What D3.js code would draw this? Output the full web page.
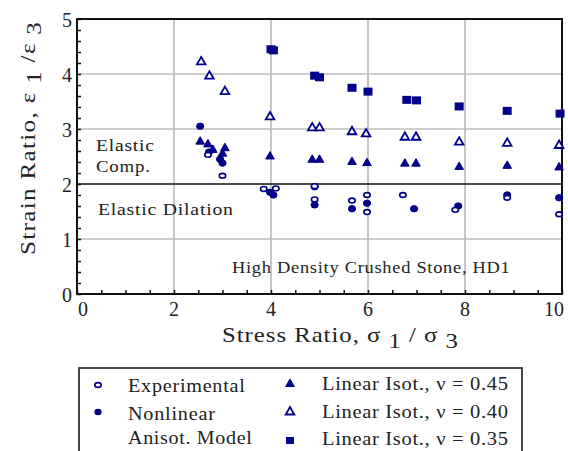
<!DOCTYPE html>
<html>
<head>
<meta charset="utf-8">
<script src="https://cdn.jsdelivr.net/npm/d3@7"></script>
<style>
  html, body { margin: 0; padding: 0; background: #fff; }
  svg { display: block; font-family: "Liberation Serif", "Times New Roman", serif; }
</style>
</head>
<body>
<svg id="chart" width="568" height="451"></svg>
<script>
// Strain ratio vs stress ratio, High Density Crushed Stone (HD1)
const xTicks = [0, 2, 4, 6, 8, 10];
const yTicks = [0, 1, 2, 3, 4, 5];

// Experimental (open circles)
const expX = [2.7, 3.0, 3.85, 4.1, 4.9, 4.9, 5.67, 5.98, 5.98, 6.72, 7.8, 8.87, 9.94];
const expY = [2.53, 2.15, 1.91, 1.92, 1.96, 1.72, 1.7, 1.8, 1.49, 1.8, 1.53, 1.75, 1.45];

// Nonlinear anisotropic model (filled circles)
const nlaX = [2.54, 2.72, 2.95, 3.0, 3.98, 4.05, 4.9, 4.9, 5.67, 5.98, 6.95, 7.86, 8.87, 9.94];
const nlaY = [3.05, 2.58, 2.45, 2.38, 1.85, 1.8, 1.95, 1.62, 1.55, 1.65, 1.55, 1.6, 1.8, 1.75];

// Linear isotropic, nu = 0.45 (filled triangles)
const li45X = [2.54, 2.7, 2.8, 3.0, 3.05, 3.98, 4.85, 5.0, 5.67, 5.98, 6.76, 6.99, 7.88, 8.87, 9.94];
const li45Y = [2.77, 2.72, 2.62, 2.55, 2.65, 2.5, 2.44, 2.44, 2.4, 2.38, 2.37, 2.37, 2.31, 2.33, 2.3];

// Linear isotropic, nu = 0.40 (open triangles)
const li40X = [2.56, 2.73, 3.05, 3.98, 4.85, 5.0, 5.67, 5.96, 6.76, 6.99, 7.88, 8.87, 9.94];
const li40Y = [4.22, 3.96, 3.68, 3.22, 3.02, 3.02, 2.95, 2.91, 2.85, 2.85, 2.76, 2.74, 2.7];

// Linear isotropic, nu = 0.35 (filled squares)
const li35X = [4.0, 4.05, 4.9, 5.0, 5.67, 6.0, 6.8, 7.0, 7.88, 8.87, 9.96];
const li35Y = [4.45, 4.43, 3.97, 3.94, 3.75, 3.68, 3.53, 3.52, 3.41, 3.33, 3.28];

const boundary = 2; // elastic compression / dilation limit

const NAVY = "#00008b";
const INK = "#222";
const svg = d3.select("#chart");
const plotL = 77, plotR = 562, plotT = 19, plotB = 294;

const x = d3.scaleLinear().domain([0, 10]).range([plotL, plotR]);
const y = d3.scaleLinear().domain([0, 5]).range([plotB, plotT]);

svg.append("rect").attr("width", 568).attr("height", 451).attr("fill", "#fff");

// Places a text line starting at (x0, baseline) and widens it to the given width,
// partly by stretching the glyphs and partly by loosening the letter spacing.
function wideText(parent, x0, base, width, size, build, rotate) {
  const grp = parent.append("g");
  const t = grp.append("text").attr("font-size", size).attr("fill", INK);
  build(t);
  const w = t.node().getComputedTextLength();
  const n = t.node().getNumberOfChars();
  const sx = Math.max(1, 1 + (width / w - 1) * 0.6);
  t.attr("letter-spacing", Math.max(0, (width / sx - w) / Math.max(1, n - 1)));
  grp.attr("transform", rotate
    ? `translate(${x0},${base}) rotate(-90) scale(${sx},1)`
    : `translate(${x0},${base}) scale(${sx},1)`);
  return t;
}
const plain = s => t => t.text(s);

// grid
const g = svg.append("g");
g.selectAll("line.gx").data(xTicks.filter(v => v > 0 && v < 10)).join("line")
  .attr("x1", d => x(d)).attr("x2", d => x(d)).attr("y1", plotT).attr("y2", plotB)
  .attr("stroke", "#bdbdbd").attr("stroke-width", 1.7);
g.selectAll("line.gy").data(yTicks.filter(v => v > 0 && v < 5 && v !== boundary)).join("line")
  .attr("x1", plotL).attr("x2", plotR).attr("y1", d => y(d)).attr("y2", d => y(d))
  .attr("stroke", "#bdbdbd").attr("stroke-width", 1.7);

// boundary line
svg.append("line").attr("x1", plotL).attr("x2", plotR)
  .attr("y1", y(boundary)).attr("y2", y(boundary))
  .attr("stroke", "#111").attr("stroke-width", 1.6);

// axes with inward ticks
const xAxis = svg.append("g").attr("transform", `translate(0,${plotB})`)
  .call(d3.axisBottom(x).tickValues(d3.range(0, 10.01, 0.5)).tickSize(-4).tickFormat(""));
const yAxis = svg.append("g").attr("transform", `translate(${plotL},0)`)
  .call(d3.axisLeft(y).tickValues(d3.range(0, 5.01, 0.2)).tickSize(-4).tickFormat(""));
[xAxis, yAxis].forEach(a => {
  a.select(".domain").remove();
  a.selectAll(".tick line").attr("stroke", "#111").attr("stroke-width", 1.5);
});

// frame
svg.append("rect").attr("x", plotL).attr("y", plotT)
  .attr("width", plotR - plotL).attr("height", plotB - plotT)
  .attr("fill", "none").attr("stroke", "#111").attr("stroke-width", 2);

// tick labels
svg.selectAll("text.xt").data(xTicks).join("text")
  .attr("x", d => x(d) + (d === 0 ? 6 : d === 10 ? -8 : 0)).attr("y", plotB + 22)
  .attr("text-anchor", "middle").attr("font-size", 20).attr("fill", INK)
  .text(d => d);
svg.selectAll("text.yt").data(yTicks).join("text")
  .attr("x", plotL - 5).attr("y", d => y(d) + 8)
  .attr("text-anchor", "end").attr("font-size", 20).attr("fill", INK)
  .text(d => d);

// axis titles
wideText(svg, 222, 342, 236, 21, t => {
  t.append("tspan").text("Stress Ratio,  \u03c3 ");
  t.append("tspan").attr("dy", 6).text("1");
  t.append("tspan").attr("dy", -6).text(" / \u03c3 ");
  t.append("tspan").attr("dy", 6).text("3");
});
wideText(svg, 35, 255, 233, 20, t => {
  t.append("tspan").text("Strain Ratio,  \u03b5 ");
  t.append("tspan").attr("dy", 6).text("1");
  t.append("tspan").attr("dy", -6).text(" /\u03b5 ");
  t.append("tspan").attr("dy", 6).text("3");
}, true);

// region annotations
wideText(svg, 96, 151, 58, 17, plain("Elastic"));
wideText(svg, 96, 172, 54, 17, plain("Comp."));
wideText(svg, 98, 215, 135, 17, plain("Elastic Dilation"));
wideText(svg, 232, 273, 278, 16, plain("High Density Crushed Stone, HD1"));

// marker drawing helpers
const tri = d3.symbol().type(d3.symbolTriangle).size(32);
function zip(xs, ys) { return xs.map((v, i) => [v, ys[i]]); }

const marks = svg.append("g");
function drawSquares(data) {
  marks.append("g").selectAll("rect").data(data).join("rect")
    .attr("x", d => x(d[0]) - 4.5).attr("y", d => y(d[1]) - 4)
    .attr("width", 9).attr("height", 8).attr("fill", NAVY);
}
function drawTris(data, filled) {
  marks.append("g").selectAll("path").data(data).join("path")
    .attr("d", tri).attr("transform", d => `translate(${x(d[0])},${y(d[1])})`)
    .attr("fill", filled ? NAVY : "#fff").attr("stroke", NAVY).attr("stroke-width", filled ? 1 : 1.8);
}
function drawCircles(data, filled) {
  marks.append("g").selectAll("ellipse").data(data).join("ellipse")
    .attr("cx", d => x(d[0])).attr("cy", d => y(d[1]))
    .attr("rx", filled ? 3.6 : 3.2).attr("ry", filled ? 3.2 : 2.4)
    .attr("fill", filled ? NAVY : "#fff").attr("stroke", NAVY).attr("stroke-width", filled ? 1 : 1.6);
}

drawSquares(zip(li35X, li35Y));
drawTris(zip(li40X, li40Y), false);
drawTris(zip(li45X, li45Y), true);
drawCircles(zip(nlaX, nlaY), true);
drawCircles(zip(expX, expY), false);

// legend
const lg = svg.append("g");
lg.append("rect").attr("x", 79).attr("y", 368).attr("width", 443).attr("height", 95)
  .attr("fill", "#fff").attr("stroke", "#333").attr("stroke-width", 1.8);

lg.append("ellipse").attr("cx", 98).attr("cy", 385).attr("rx", 3.2).attr("ry", 2.4)
  .attr("fill", "#fff").attr("stroke", NAVY).attr("stroke-width", 1.6);
wideText(lg, 128, 392, 117, 18, plain("Experimental"));

lg.append("ellipse").attr("cx", 98).attr("cy", 412).attr("rx", 3.6).attr("ry", 3.2).attr("fill", NAVY);
wideText(lg, 128, 420, 87, 18, plain("Nonlinear"));
wideText(lg, 128, 444, 124, 18, plain("Anisot. Model"));

lg.append("path").attr("d", tri).attr("transform", "translate(290,384)").attr("fill", NAVY).attr("stroke", NAVY);
wideText(lg, 322, 390, 186, 18, plain("Linear Isot.,  \u03bd = 0.45"));
lg.append("path").attr("d", tri).attr("transform", "translate(290,412)").attr("fill", "#fff").attr("stroke", NAVY).attr("stroke-width", 1.8);
wideText(lg, 322, 418, 186, 18, plain("Linear Isot.,  \u03bd = 0.40"));
lg.append("rect").attr("x", 286).attr("y", 437).attr("width", 8).attr("height", 7).attr("fill", NAVY);
wideText(lg, 322, 445, 186, 18, plain("Linear Isot.,  \u03bd = 0.35"));
</script>
</body>
</html>
